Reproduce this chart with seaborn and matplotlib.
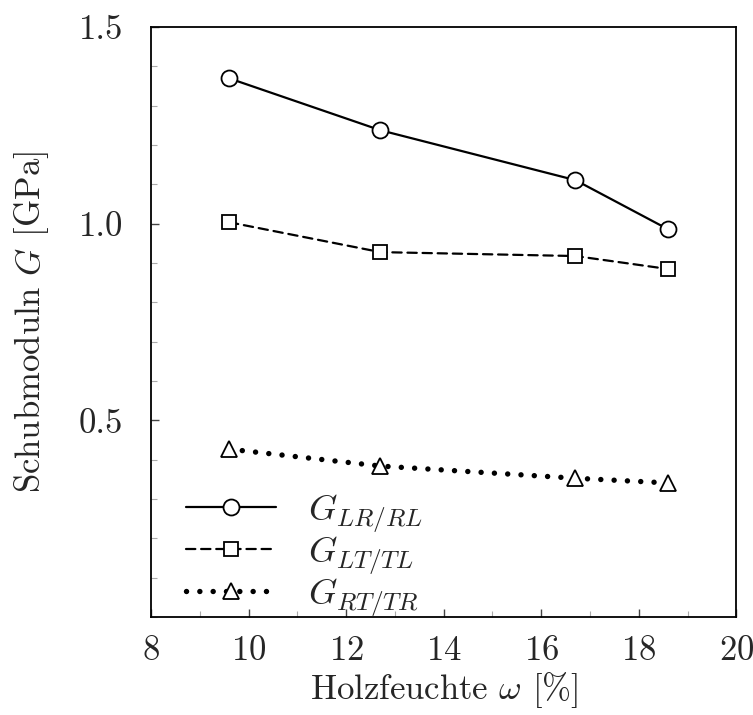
import numpy as np
import pandas as pd
import matplotlib
matplotlib.use("Agg")
import matplotlib.pyplot as plt
from matplotlib.ticker import MultipleLocator
import seaborn as sns

# ---- data ----
moisture = [9.6, 12.7, 16.7, 18.6]
g_lr = [1.37, 1.238, 1.111, 0.986]
g_lt = [1.004, 0.928, 0.918, 0.885]
g_rt = [0.427, 0.384, 0.353, 0.341]
labels = [r"$G_{LR/RL}$", r"$G_{LT/TL}$", r"$G_{RT/TR}$"]

sns.set_style("ticks")
plt.rcParams["font.family"] = ["cmr10"]
plt.rcParams["mathtext.fontset"] = "cm"
plt.rcParams["axes.unicode_minus"] = False
plt.rcParams["axes.formatter.use_mathtext"] = True

fig = plt.figure(figsize=(7.53, 7.15), dpi=100)
ax = fig.add_axes([0.2005, 0.137, 0.7775, 0.825])

fs = 25
series = [
    (g_lr, labels[0], "o", "-", 11.5, 1.6),
    (g_lt, labels[1], "s", (0, (4.2, 2.6)), 10, 1.6),
    (g_rt, labels[2], "^", (0, (0.01, 2.45)), 11, 3.9),
]
for vals, lab, mk, ls, ms, lw in series:
    df = pd.DataFrame({"x": moisture, "y": vals})
    sns.lineplot(data=df, x="x", y="y", ax=ax, color="black", marker=mk,
                 markersize=ms, markerfacecolor="white", markeredgecolor="black",
                 markeredgewidth=1.3, linestyle=ls, linewidth=lw, label=lab,
                 dash_capstyle="round", solid_capstyle="round")

ax.set_xlim(8, 20)
ax.set_ylim(0, 1.5)
ax.xaxis.set_major_locator(MultipleLocator(2))
ax.xaxis.set_minor_locator(MultipleLocator(1))
ax.set_yticks([0.5, 1.0, 1.5])
ax.set_yticklabels(["0.5", "1.0", "1.5"])
ax.yaxis.set_minor_locator(MultipleLocator(0.1))
ax.tick_params(axis="both", which="major", direction="in", length=6, width=1,
               color="#444444", labelsize=fs)
ax.tick_params(axis="y", which="major", pad=20)
ax.tick_params(axis="x", which="major", pad=13)
ax.tick_params(axis="both", which="minor", direction="in", length=4, width=0.8,
               color="#aaaaaa")
for sp in ax.spines.values():
    sp.set_linewidth(1.3)
    sp.set_color("black")

ax.set_xlabel(r"Holzfeuchte $\omega$ [%]", fontsize=fs, labelpad=2)
ax.set_ylabel(r"Schubmoduln $G$ [GPa]", fontsize=fs, labelpad=20)

leg = ax.legend(loc="lower left", bbox_to_anchor=(0.01, -0.05), frameon=False,
                fontsize=26, handlelength=2.5, handletextpad=0.9,
                labelspacing=0.0, borderpad=0.3)

fig.savefig("out.png", dpi=100)
